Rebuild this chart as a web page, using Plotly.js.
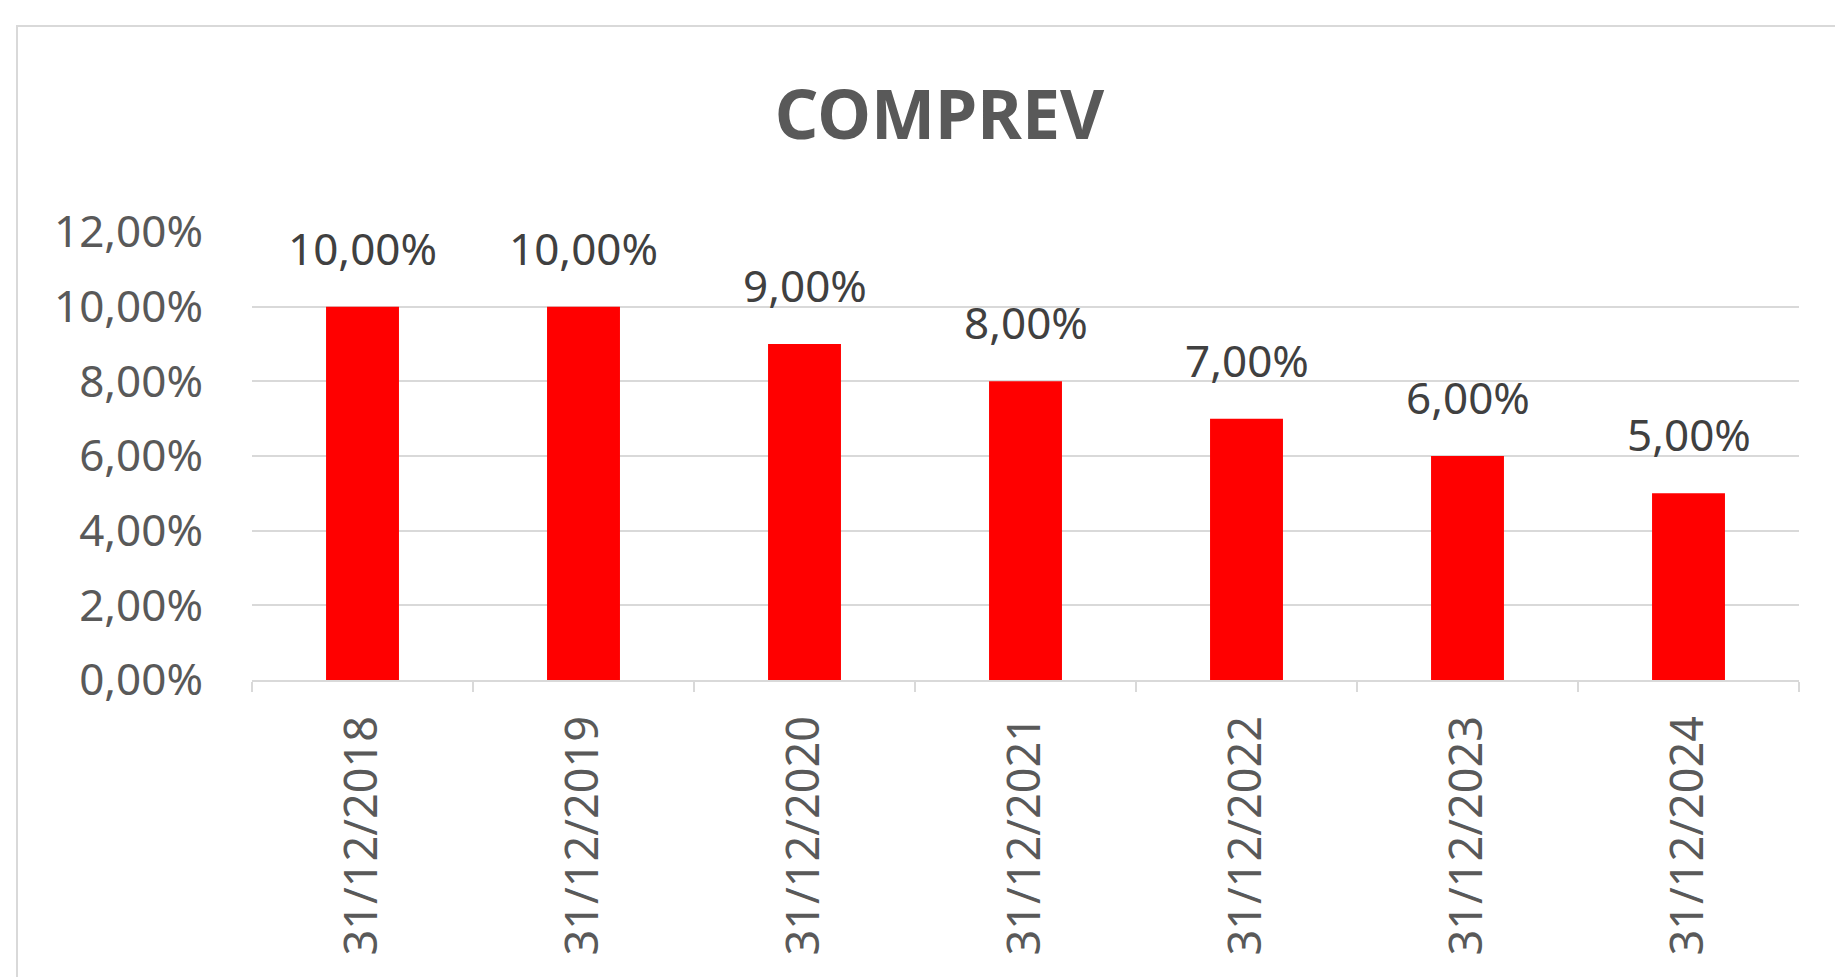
<!DOCTYPE html>
<html>
<head>
<meta charset="utf-8">
<script src="https://cdn.plot.ly/plotly-3.0.1.min.js"></script>
<style>
  html, body { margin: 0; padding: 0; background: #ffffff; }
  #chart { width: 1835px; height: 977px; }
</style>
</head>
<body>
<div id="chart"></div>
<script>
const categories = ["31/12/2018", "31/12/2019", "31/12/2020", "31/12/2021", "31/12/2022", "31/12/2023", "31/12/2024"];
const values = [0.10, 0.10, 0.09, 0.08, 0.07, 0.06, 0.05];
const yTicks = [0, 0.02, 0.04, 0.06, 0.08, 0.10, 0.12];
const chartTitle = "COMPREV";

function fmtPct(v) {
  return (v * 100).toFixed(2).replace('.', ',') + '%';
}

const FONT = "Noto Sans, Open Sans, Liberation Sans, sans-serif";

const trace = {
  type: 'bar',
  x: categories,
  y: values,
  marker: { color: '#ff0000', line: { width: 0 } },
  hoverinfo: 'skip'
};

const annotations = categories.map((c, i) => ({
  x: c,
  y: values[i],
  xref: 'x',
  yref: 'y',
  text: fmtPct(values[i]),
  showarrow: false,
  yanchor: 'bottom',
  xanchor: 'center',
  yshift: 27,
  font: { family: FONT, size: 44, color: '#404040' }
}));

const layout = {
  width: 1835,
  height: 977,
  paper_bgcolor: '#ffffff',
  plot_bgcolor: '#ffffff',
  separators: ',.',
  margin: { l: 252, r: 36, t: 232, b: 297, pad: 0 },
  showlegend: false,
  bargap: 0.67,
  title: {
    text: chartTitle,
    x: 0.512,
    xref: 'container',
    xanchor: 'center',
    y: 1 - 115 / 977,
    yref: 'container',
    yanchor: 'middle',
    font: { family: FONT, size: 68, color: '#595959', weight: 'bold' }
  },
  xaxis: {
    type: 'category',
    tickangle: -90,
    ticks: 'outside',
    tickson: 'boundaries',
    ticklen: 10,
    tickwidth: 2,
    tickcolor: '#d9d9d9',
    showline: true,
    linecolor: '#d9d9d9',
    linewidth: 2,
    showgrid: false,
    zeroline: false,
    ticklabelstandoff: 16,
    tickfont: { family: FONT, size: 45, color: '#595959' }
  },
  yaxis: {
    range: [0, 0.12],
    tickvals: yTicks,
    tickformat: '.2%',
    showgrid: true,
    gridcolor: '#d9d9d9',
    gridwidth: 2,
    zeroline: false,
    showline: false,
    ticks: '',
    ticklabelstandoff: 48,
    tickfont: { family: FONT, size: 44, color: '#595959' }
  },
  annotations: annotations,
  shapes: [{
    type: 'rect',
    xref: 'paper',
    yref: 'paper',
    x0: (17 - 252) / 1547,
    x1: 1.2,
    y0: -0.8,
    y1: (680 - 26) / 448,
    line: { color: '#d9d9d9', width: 2 },
    fillcolor: 'rgba(0,0,0,0)',
    layer: 'below'
  }]
};

Plotly.newPlot('chart', [trace], layout, { displayModeBar: false, staticPlot: true });
</script>
</body>
</html>
